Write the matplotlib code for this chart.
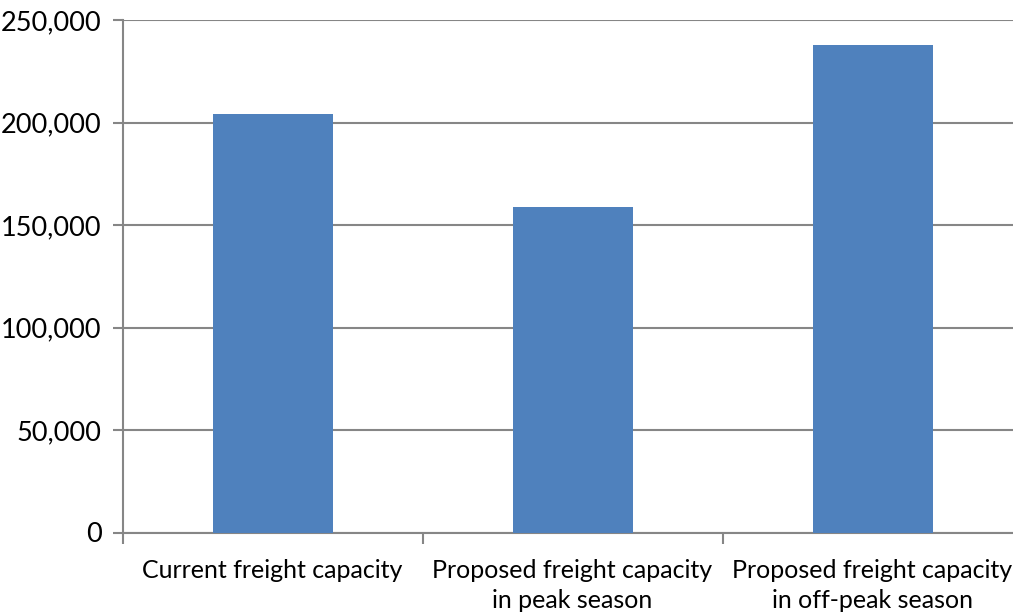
import matplotlib.pyplot as plt
import numpy as np

categories = ["Current freight capacity",
              "Proposed freight capacity\nin peak season",
              "Proposed freight capacity\nin off-peak season"]
capacity = [204000, 159000, 238000]
y_ticks = [0, 50000, 100000, 150000, 200000, 250000]

plt.rcParams['font.family'] = ['Lato', 'DejaVu Sans']

fig = plt.figure(figsize=(10.13, 6.14), dpi=100)
# axes run slightly past the right edge, like the original export
ax = fig.add_axes([122.5 / 1013, (614 - 532.5) / 614, 900 / 1013, 512.5 / 614])

grid_col = '#868686'
x = np.arange(len(categories))
ax.bar(x, capacity, width=0.4, color='#4F81BD', zorder=3)

ax.set_xlim(-0.5, len(categories) - 0.5)
ax.set_ylim(0, 250000)
ax.set_yticks(y_ticks)
ax.set_yticklabels([f"{v:,}" for v in y_ticks], fontsize=19.5)
ax.yaxis.grid(True, color=grid_col, linewidth=1.5, zorder=0)

# category labels between boundary ticks
ax.set_xticks(x)
ax.set_xticklabels(categories, fontsize=18, linespacing=1.35)
ax.tick_params(axis='x', length=0, pad=19)
ax.set_xticks(np.arange(len(categories) + 1) - 0.5, minor=True)
ax.tick_params(axis='x', which='minor', length=8, width=1.5, color=grid_col)
ax.tick_params(axis='y', length=7, width=1.5, color=grid_col, pad=8)

for side in ['top', 'right']:
    ax.spines[side].set_visible(False)
for side in ['left', 'bottom']:
    ax.spines[side].set_color(grid_col)
    ax.spines[side].set_linewidth(1.5)

fig.savefig('out.png', dpi=100)
